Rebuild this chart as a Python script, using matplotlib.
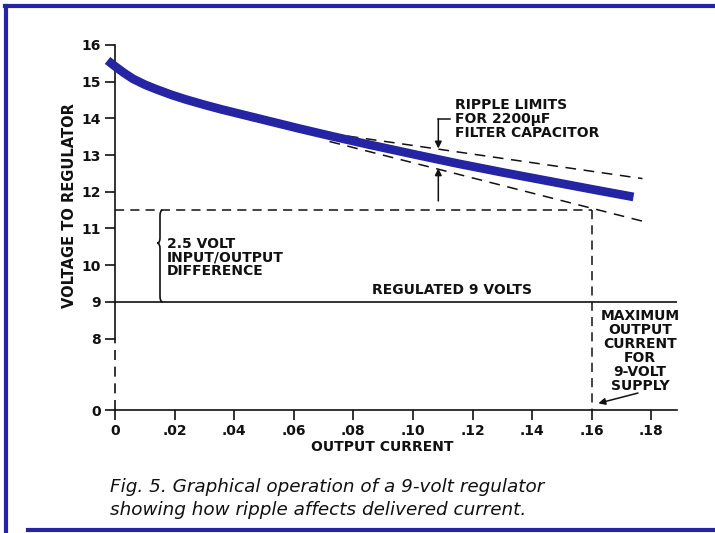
import numpy as np
import matplotlib.pyplot as plt
from matplotlib.lines import Line2D
from matplotlib.path import Path
from matplotlib.patches import PathPatch

# input voltage to the regulator vs output current
current = [-0.0025, 0.000, 0.003, 0.006, 0.010, 0.014, 0.019, 0.024, 0.030,
           0.036, 0.043, 0.051, 0.062, 0.073, 0.085, 0.101, 0.115, 0.130,
           0.145, 0.160, 0.174]
voltage = [15.58, 15.42, 15.24, 15.08, 14.92, 14.79, 14.64, 14.51, 14.37,
           14.24, 14.10, 13.94, 13.72, 13.51, 13.29, 13.01, 12.77, 12.53,
           12.30, 12.07, 11.86]

# ripple envelope for the 2200uF capacitor (end points of the dashed lines)
ripple_x = [0.072, 0.177]
ripple_hi = [13.59, 12.36]
ripple_lo = [13.37, 11.20]

regulated = 9.0
headroom = 2.5
max_current = 0.16

xticks = [0, 0.02, 0.04, 0.06, 0.08, 0.10, 0.12, 0.14, 0.16, 0.18]
xlabels = ["0", ".02", ".04", ".06", ".08", ".10", ".12", ".14", ".16", ".18"]
yticks = [0, 8, 9, 10, 11, 12, 13, 14, 15, 16]

BLUE = "#2424a4"
INK = "#111111"
BOLD = dict(fontweight="bold", fontsize=10, color=INK, family="DejaVu Sans")

# broken axis: 8..16 linear, 0..8 squeezed into a short stub
R = 0.2432
def fwd(v):
    v = np.asarray(v, dtype=float)
    return np.where(v >= 8, v, 8 - (8 - v) * R)

def inv(t):
    t = np.asarray(t, dtype=float)
    return np.where(t >= 8, t, 8 - (8 - t) / R)

fig = plt.figure(figsize=(7.15, 5.33), dpi=100)
ax = fig.add_axes([115/715, 123/533, 562/715, 365/533])
ax.set_yscale("function", functions=(fwd, inv))
ax.set_xlim(0, 0.1886)
ax.set_ylim(0, 16)

for s in ("top", "right"):
    ax.spines[s].set_visible(False)
ax.spines["left"].set_bounds(8, 16)
for s in ("left", "bottom"):
    ax.spines[s].set_linewidth(1.2)
    ax.spines[s].set_color(INK)
ax.plot([0, 0], [0, 8], color=INK, lw=1.2, ls=(0, (6, 4)), clip_on=False)

ax.set_xticks(xticks)
ax.set_xticklabels(xlabels)
ax.set_yticks(yticks)
ax.tick_params(axis="both", direction="out", length=7, width=1.2, color=INK,
               labelsize=10, labelcolor=INK)
ax.tick_params(axis="x", pad=3)
ax.tick_params(axis="y", pad=3)
for lab in ax.get_xticklabels() + ax.get_yticklabels():
    lab.set_fontweight("bold")

ax.set_xlabel("OUTPUT CURRENT", **BOLD)
ax.xaxis.set_label_coords(0.475, -0.082)
ax.set_ylabel("VOLTAGE TO REGULATOR", **{**BOLD, "fontsize": 10.5})
ax.yaxis.set_label_coords(-0.068, 0.56)

# main curve
ax.plot(current, voltage, color=BLUE, lw=6.3, solid_capstyle="butt",
        solid_joinstyle="round", clip_on=False, zorder=3)

# ripple limits
ax.plot(ripple_x, ripple_hi, color=INK, lw=1.1, ls=(0, (7, 5)), zorder=2)
ax.plot(ripple_x, ripple_lo, color=INK, lw=1.1, ls=(0, (7, 5)), zorder=2)

# regulated output and headroom
ax.axhline(regulated, color=INK, lw=1.2)
top = regulated + headroom
ax.plot([0, max_current], [top, top], color=INK, lw=1.1, ls=(0, (6, 4)))
ax.plot([max_current, max_current], [top, 0], color=INK, lw=1.1, ls=(0, (6, 4)))

# brace marking the 2.5 V difference
bx, bw, ym = 0.0142, 0.0018, 10.6
y0, y1, d = regulated, top, 0.15
verts = [(bx + bw, y1), (bx + bw/2, y1), (bx + bw/2, y1 - d),
         (bx + bw/2, ym + d), (bx + bw/2, ym), (bx, ym),
         (bx + bw/2, ym), (bx + bw/2, ym - d),
         (bx + bw/2, y0 + d), (bx + bw/2, y0), (bx + bw, y0)]
codes = [Path.MOVETO, Path.CURVE3, Path.CURVE3, Path.LINETO,
         Path.CURVE3, Path.CURVE3, Path.CURVE3, Path.CURVE3,
         Path.LINETO, Path.CURVE3, Path.CURVE3]
ax.add_patch(PathPatch(Path(verts, codes), fill=False, lw=1.2, ec=INK))

ax.text(0.0175, 10.77, "2.5 VOLT\nINPUT/OUTPUT\nDIFFERENCE", ha="left", va="top",
        linespacing=0.95, **BOLD)
ax.text(0.1131, 9.12, "REGULATED 9 VOLTS", ha="center", va="bottom", **BOLD)

# ripple annotation
ax.text(0.1141, 14.56, "RIPPLE LIMITS\nFOR 2200\u00b5F\nFILTER CAPACITOR",
        ha="left", va="top", linespacing=1.0, **BOLD)
ax.plot([0.1085, 0.1123], [13.98, 13.98], color=INK, lw=1.1)
arrow = dict(arrowstyle="-|>", lw=1.1, color=INK, mutation_scale=10,
             shrinkA=0, shrinkB=0)
ax.annotate("", xy=(0.1085, 13.18), xytext=(0.1085, 13.98), arrowprops=arrow)
ax.annotate("", xy=(0.1085, 12.64), xytext=(0.1085, 11.75), arrowprops=arrow)

# maximum current note
ax.text(0.1762, 8.82, "MAXIMUM\nOUTPUT\nCURRENT\nFOR\n9-VOLT\nSUPPLY",
        ha="center", va="top", linespacing=1.0, **BOLD)
ax.annotate("", xy=(0.1622, 0.75), xytext=(0.1755, 1.9), arrowprops=arrow,
            annotation_clip=False)

# caption
cap = dict(ha="left", va="center", fontsize=13.2, style="italic",
           family="DejaVu Sans", color=INK)
fig.text(110/715, 1 - 487/533,
         "Fig. 5. Graphical operation of a 9-volt regulator", **cap)
fig.text(110/715, 1 - 510/533,
         "showing how ripple affects delivered current.", **cap)

# frame
for xs, ys in (([5/715, 1], [1 - 6/533, 1 - 6/533]),
               ([6/715, 6/715], [1 - 6/533, 0]),
               ([28/715, 1], [3/533, 3/533])):
    fig.add_artist(Line2D(xs, ys, color=BLUE, lw=3, transform=fig.transFigure))

fig.savefig("out.png", dpi=100)
